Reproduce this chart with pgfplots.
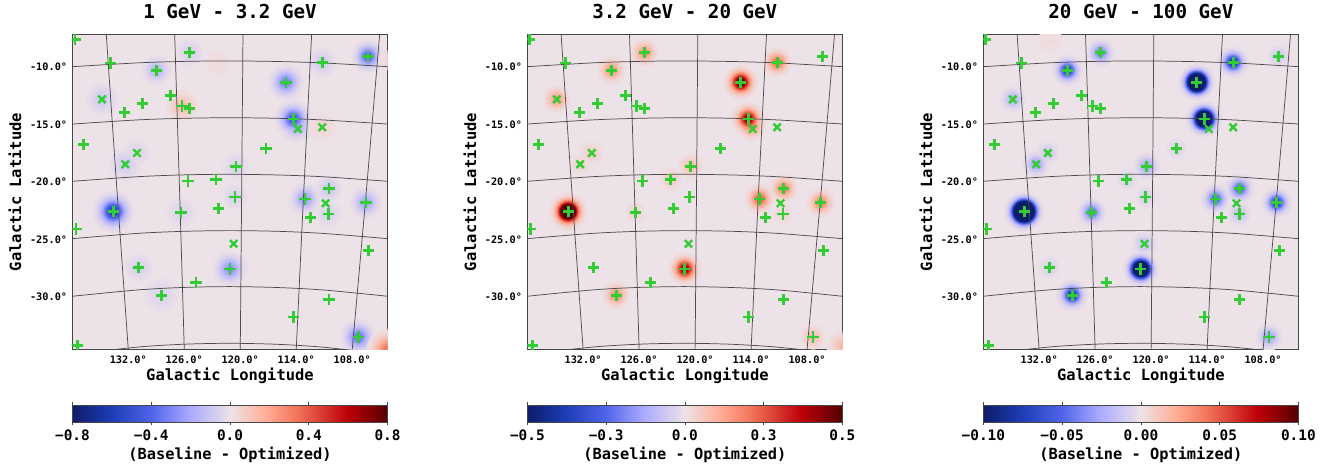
\documentclass[border=0pt]{standalone}
\usepackage{fontspec}
\setmainfont{DejaVu Sans Mono}
\usepackage{pgfplots}
\usepackage{pgfplotstable}
\pgfplotsset{compat=1.18}

\definecolor{bgpink}{RGB}{237,226,231}
\definecolor{srcgreen}{RGB}{50,205,50}
\definecolor{framegray}{RGB}{70,70,70}

\pgfplotsset{
  colormap={resid}{
    rgb255(0pt)=(14,28,105)
    rgb255(12pt)=(28,60,180)
    rgb255(25pt)=(80,100,235)
    rgb255(37pt)=(170,170,255)
    rgb255(50pt)=(237,226,231)
    rgb255(62pt)=(255,170,145)
    rgb255(72pt)=(240,110,85)
    rgb255(87pt)=(190,0,10)
    rgb255(100pt)=(85,0,0)
  },
  skymap/.style={
    scale only axis, width=236.25pt, height=236.25pt,
    anchor=south west,
    clip marker paths=true,
    x dir=reverse,
    xmin=104.22, xmax=137.98, ymin=-34.57, ymax=-7.17,
    axis background/.style={fill=bgpink},
    axis line style={framegray, line width=0.8pt},
    colormap name=resid,
    point meta min=-1, point meta max=1,
    xtick={132,126,120,114,108},
    xticklabels={132.0°,126.0°,120.0°,114.0°,108.0°},
    ytick={-10,-15,-20,-25,-30},
    yticklabels={-10.0°,-15.0°,-20.0°,-25.0°,-30.0°},
    xtick pos=lower, ytick pos=left,
    major tick length=0pt,
    tick label style={font=\bfseries\fontsize{7.7}{9}\selectfont, black},
    xticklabel style={yshift=-1.5pt},
    yticklabel style={xshift=-0.5pt},
    xlabel style={at={(axis description cs:0.5,-0.084)}, anchor=center, font=\bfseries\fontsize{11.6}{13}\selectfont},
    ylabel style={at={(axis description cs:-0.1825,0.5)}, anchor=center, rotate=0, font=\bfseries\fontsize{11.6}{13}\selectfont},
    title style={at={(axis description cs:0.5,1.0714)}, anchor=center, yshift=-6pt, font=\bfseries\fontsize{14.4}{16}\selectfont},
    xlabel={Galactic Longitude}, ylabel={Galactic Latitude},
  },
  cbar/.style={
    scale only axis, width=236.25pt, height=12.75pt,
    anchor=south west, view={0}{90},
    ymin=0, ymax=1, ytick=\empty,
    colormap name=resid,
    axis line style={framegray, line width=0.7pt},
    xtick pos=both, tick align=outside,
    major tick length=2pt,
    tick style={framegray, line width=0.5pt},
    xticklabel style={font=\bfseries\fontsize{10.8}{12}\selectfont, yshift=0pt},
    xlabel style={at={(axis description cs:0.5,-1.94)}, anchor=center, font=\bfseries\fontsize{11.5}{13}\selectfont},
    xlabel={(Baseline - Optimized)},
  },
}

% catalogue sources (Galactic lon, lat in the map's tick scale)
\pgfplotstableread{
lon lat
137.71 -7.59
133.89 -9.65
125.42 -8.76
128.96 -10.29
115.10 -11.33
111.21 -9.59
106.32 -9.07
127.50 -12.46
130.46 -13.19
132.43 -13.97
126.25 -13.39
125.42 -13.63
114.32 -14.52
136.82 -16.72
117.25 -17.07
120.46 -18.63
122.60 -19.77
125.60 -19.91
110.50 -20.58
120.57 -21.30
113.07 -21.48
106.53 -21.80
122.31 -22.29
126.35 -22.63
133.61 -22.58
112.46 -23.07
110.57 -22.78
137.60 -24.09
106.24 -25.97
130.89 -27.45
121.10 -27.57
124.75 -28.76
128.46 -29.85
110.50 -30.20
114.28 -31.74
107.36 -33.48
137.42 -34.20
}\srcplus
\pgfplotstableread{
lon lat
134.82 -12.81
113.82 -15.39
111.21 -15.24
132.32 -18.46
131.07 -17.48
110.85 -21.85
120.71 -25.37
}\srccross

% residual blobs: lon, lat, amplitude (fraction of colour scale), width (pt)
\pgfplotstableread{
lon lat A w
133.61 -22.58 0.80 5.7
114.32 -14.52 0.62 5.3
114.00 -15.10 0.30 5.3
115.10 -11.33 0.44 5.3
106.32 -9.07 0.58 4.7
107.36 -33.48 0.48 5.3
121.10 -27.57 0.38 5.3
128.96 -10.29 0.24 4.8
106.53 -21.80 0.30 5.0
113.07 -21.48 0.34 5.0
110.50 -20.58 0.15 4.8
120.57 -21.30 0.10 4.8
126.35 -22.63 0.08 6.0
128.46 -29.85 0.08 7.0
130.89 -27.45 0.10 5.4
134.82 -12.81 0.13 6.0
132.32 -18.46 0.13 6.0
131.07 -17.48 0.08 5.4
111.21 -9.59 0.13 5.4
125.42 -8.76 0.10 5.4
120.46 -18.63 0.09 5.4
110.57 -22.78 0.09 5.4
}\blobsAblue
\pgfplotstableread{
lon lat A w
126.25 -13.39 0.18 5.4
122.40 -9.65 0.035 7.0
111.21 -15.24 0.07 5.8
104.22 -34.57 0.45 6.0
104.25 -9.40 0.04 5.4
}\blobsAred
\pgfplotstableread{
lon lat A w
133.61 -22.58 2.00 4.6
115.10 -11.33 1.15 4.5
114.32 -14.52 0.95 4.5
114.00 -15.10 0.42 4.5
121.10 -27.57 0.95 4.4
111.21 -9.59 0.50 4.3
113.07 -21.48 0.55 4.3
106.53 -21.80 0.42 4.3
110.50 -20.58 0.42 4.3
125.42 -8.76 0.36 4.3
128.46 -29.85 0.36 4.3
128.96 -10.29 0.36 4.3
134.82 -12.81 0.32 4.3
107.36 -33.48 0.18 4.3
120.46 -18.63 0.18 4.3
131.07 -17.48 0.11 4.3
122.60 -19.77 0.11 4.3
104.25 -34.30 0.18 5.2
132.32 -18.46 0.07 4.3
126.35 -22.63 0.07 4.3
110.57 -22.78 0.07 4.3
}\blobsBred
\pgfplotstableread{
lon lat A w
138.30 -18.67 0.10 6.0
}\blobsBblue
\pgfplotstableread{
lon lat A w
133.61 -22.58 4.50 4.5
115.10 -11.33 3.20 4.3
114.32 -14.52 2.60 4.3
121.10 -27.57 2.40 4.3
128.46 -29.85 0.90 4.2
128.96 -10.29 0.80 4.2
111.21 -9.59 0.90 4.2
126.35 -22.63 0.52 4.2
106.53 -21.80 0.78 4.2
113.07 -21.48 0.58 4.2
110.50 -20.58 0.58 4.2
125.42 -8.76 0.45 4.2
138.40 -18.90 0.70 5.8
120.46 -18.63 0.32 4.2
132.32 -18.46 0.32 4.2
134.82 -12.81 0.24 4.2
120.71 -25.37 0.18 4.2
107.36 -33.48 0.32 4.2
106.32 -9.07 0.14 4.2
110.57 -22.78 0.18 4.2
131.07 -17.48 0.14 4.2
120.57 -21.30 0.10 4.2
122.60 -19.77 0.10 4.2
130.89 -27.45 0.10 4.2
117.25 -17.07 0.09 4.2
}\blobsCblue
\pgfplotstableread{
lon lat A w
130.80 -7.65 0.035 7.0
}\blobsCred

% draws one residual table as filled levels of the colour scale
\newcommand\Blobs[2]{%
  \pgfplotsinvokeforeach{0.015,0.025,0.035,0.05,0.07,0.09,0.115,0.14,0.17,0.21,0.25,0.3,0.35,0.4,0.46,0.53,0.6,0.68,0.76,0.84,0.92,1.0}{%
    \addplot[scatter, only marks, mark=*, forget plot,
      scatter/use mapped color={draw opacity=0, fill=mapped color},
      point meta={#2*##1},
      visualization depends on={\thisrow{w}*sqrt(2*ln(max(\thisrow{A},##1)/##1)) \as \rad},
      scatter/@pre marker code/.append style={/tikz/mark size=\rad}]
      table[x=lon,y=lat] {#1};
  }%
}

\newcommand\GridLines{%
  \pgfplotsset{gridl/.style={black!70, line width=0.55pt, smooth, forget plot}}%
  \addplot[gridl] coordinates {(138,-9.97)(131,-9.64)(126,-9.51)(121.1,-9.47)(116,-9.52)(111,-9.65)(104.2,-9.97)};
  \addplot[gridl] coordinates {(138,-14.96)(131,-14.60)(126,-14.46)(121.1,-14.41)(116,-14.46)(111,-14.61)(104.2,-14.96)};
  \addplot[gridl] coordinates {(138,-19.94)(131,-19.54)(126,-19.38)(121.1,-19.33)(116,-19.39)(111,-19.55)(104.2,-19.94)};
  \addplot[gridl] coordinates {(138,-24.93)(131,-24.47)(126,-24.29)(121.1,-24.23)(116,-24.29)(111,-24.48)(104.2,-24.93)};
  \addplot[gridl] coordinates {(138,-29.94)(131,-29.39)(126,-29.17)(121.1,-29.10)(116,-29.18)(111,-29.40)(104.2,-29.94)};
  \addplot[gridl] coordinates {(138,-35.00)(131,-34.36)(126,-34.11)(121.1,-34.03)(116,-34.12)(111,-34.38)(104.2,-35.00)};
  \addplot[gridl] coordinates {(134.36,-7.17)(133.2,-20.9)(132,-34.57)};
  \addplot[gridl] coordinates {(127.03,-7.17)(126.5,-20.9)(126,-34.57)};
  \addplot[gridl] coordinates {(119.71,-7.17)(119.85,-20.9)(120,-34.57)};
  \addplot[gridl] coordinates {(112.35,-7.17)(113.2,-20.9)(114,-34.57)};
  \addplot[gridl] coordinates {(105.06,-7.17)(106.5,-20.9)(108,-34.57)};
}
\newcommand\Sources{%
  \addplot[only marks, mark=+, mark size=4.2pt, color=srcgreen, mark options={line width=2.1pt}, forget plot]
    table[x=lon,y=lat] {\srcplus};
  \addplot[only marks, mark=x, mark size=3.9pt, color=srcgreen, mark options={line width=1.8pt}, forget plot]
    table[x=lon,y=lat] {\srccross};
}

\begin{document}
\begin{tikzpicture}[x=1pt,y=1pt]
\useasboundingbox (0,0) rectangle (999.75,352.5);

% ---- maps
\begin{axis}[skymap, at={(54.375pt,90.375pt)}, title={1 GeV - 3.2 GeV}]
  \Blobs{\blobsAblue}{-1}
  \Blobs{\blobsAred}{1}
  \GridLines
  \Sources
\end{axis}
\begin{axis}[skymap, at={(395.5pt,90.375pt)}, title={3.2 GeV - 20 GeV}]
  \Blobs{\blobsBblue}{-1}
  \Blobs{\blobsBred}{1}
  \GridLines
  \Sources
\end{axis}
\begin{axis}[skymap, at={(737.5pt,90.375pt)}, title={20 GeV - 100 GeV}]
  \Blobs{\blobsCred}{1}
  \Blobs{\blobsCblue}{-1}
  \GridLines
  \Sources
\end{axis}

% ---- colour bars
\begin{axis}[cbar, at={(54.375pt,36pt)}, xmin=-0.8, xmax=0.8,
    xtick={-0.8,-0.4,0,0.4,0.8}, xticklabels={−0.8,−0.4,0.0,0.4,0.8}]
  \addplot3[surf, shader=interp, point meta=x, mesh/rows=2, mesh/cols=2]
    coordinates {(-0.8,0,0) (0.8,0,0) (-0.8,1,0) (0.8,1,0)};
\end{axis}
\begin{axis}[cbar, at={(395.5pt,36pt)}, xmin=-0.5, xmax=0.5,
    xtick={-0.5,-0.25,0,0.25,0.5}, xticklabels={−0.5,−0.3,0.0,0.3,0.5}]
  \addplot3[surf, shader=interp, point meta=x, mesh/rows=2, mesh/cols=2]
    coordinates {(-0.5,0,0) (0.5,0,0) (-0.5,1,0) (0.5,1,0)};
\end{axis}
\begin{axis}[cbar, at={(737.5pt,36pt)}, xmin=-0.1, xmax=0.1,
    xtick={-0.1,-0.05,0,0.05,0.1}, xticklabels={−0.10,−0.05,0.00,0.05,0.10}]
  \addplot3[surf, shader=interp, point meta=x, mesh/rows=2, mesh/cols=2]
    coordinates {(-0.1,0,0) (0.1,0,0) (-0.1,1,0) (0.1,1,0)};
\end{axis}
\end{tikzpicture}
\end{document}
